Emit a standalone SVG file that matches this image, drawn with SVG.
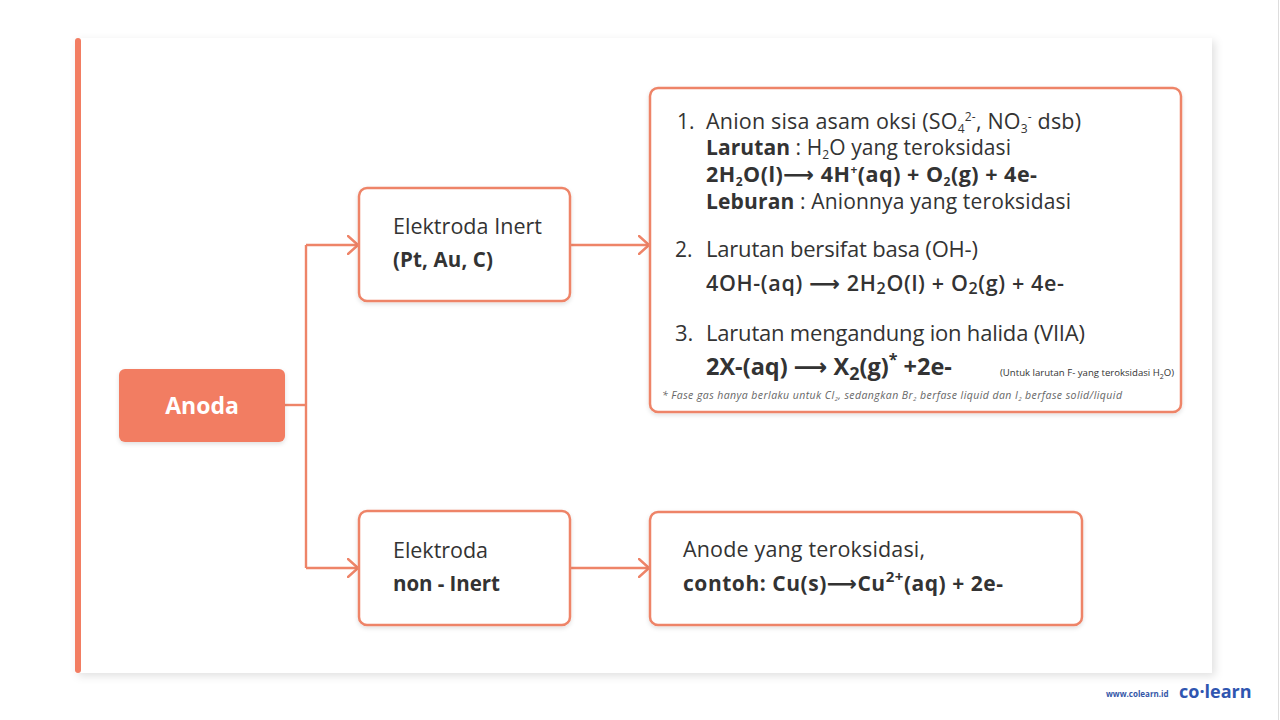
<svg xmlns="http://www.w3.org/2000/svg" width="1280" height="720" viewBox="0 0 1280 720">
<defs>
<filter id="sh" x="-5%" y="-5%" width="110%" height="112%">
<feDropShadow dx="3" dy="3" stdDeviation="4" flood-color="#000" flood-opacity="0.12"/>
</filter>
<filter id="bs" x="-5%" y="-5%" width="110%" height="115%">
<feDropShadow dx="0" dy="2" stdDeviation="2" flood-color="#000" flood-opacity="0.12"/>
</filter>
<marker id="arr" viewBox="0 0 12 20" refX="11" refY="10" markerWidth="12" markerHeight="20" markerUnits="userSpaceOnUse" orient="auto">
<path d="M1,1 L11,10 L1,19" fill="none" stroke="#EE8468" stroke-width="2.4" stroke-linecap="round" stroke-linejoin="round"/>
</marker>
<style>
.t{font-family:"Open Sans","Liberation Sans","DejaVu Sans",sans-serif;fill:#333;}
.b{font-weight:700;}
.box{fill:#fff;stroke:#EE8468;stroke-width:2.5;}
.ln{fill:none;stroke:#EE8468;stroke-width:2.4;}
</style>
</defs>
<rect width="1280" height="720" fill="#fff"/>
<line x1="1278.5" y1="0" x2="1278.5" y2="720" stroke="#ddd" stroke-width="1"/>
<rect x="75" y="38" width="1137" height="635" fill="#fff" filter="url(#sh)"/>
<rect x="75" y="38" width="6" height="635" rx="3" fill="#F27D62"/>

<g id="connectors">
<polyline class="ln" points="285,405 306,405"/>
<polyline class="ln" points="306,245 306,568"/>
<line class="ln" x1="306" y1="245" x2="358" y2="245" marker-end="url(#arr)"/>
<line class="ln" x1="306" y1="568" x2="358" y2="568" marker-end="url(#arr)"/>
<line class="ln" x1="570" y1="245" x2="649" y2="245" marker-end="url(#arr)"/>
<line class="ln" x1="570" y1="568" x2="649" y2="568" marker-end="url(#arr)"/>
</g>

<g id="anoda">
<rect x="119" y="369" width="166" height="73" rx="6" fill="#F27D62" filter="url(#bs)"/>
<text x="202" y="414" text-anchor="middle" class="t b" style="fill:#fff" font-size="23">Anoda</text>
</g>

<g id="inert">
<rect class="box" x="359" y="188" width="211" height="113" rx="8" filter="url(#bs)"/>
<text x="393" y="234" class="t" font-size="21.5" textLength="149" lengthAdjust="spacing">Elektroda Inert</text>
<text x="393" y="267" class="t b" font-size="20.5" textLength="100" lengthAdjust="spacing">(Pt, Au, C)</text>
</g>

<g id="noninert">
<rect class="box" x="359" y="511" width="211" height="114" rx="8" filter="url(#bs)"/>
<text x="393" y="558" class="t" font-size="21.5" textLength="95" lengthAdjust="spacing">Elektroda</text>
<text x="393" y="591" class="t b" font-size="20.5" textLength="107" lengthAdjust="spacing">non - Inert</text>
</g>

<g id="inert-detail">
<rect class="box" x="650" y="88" width="531" height="324" rx="8" filter="url(#bs)"/>
<text x="677" y="129" class="t" font-size="21">1.</text>
<text x="706" y="129" class="t" font-size="21.5" textLength="375" lengthAdjust="spacing">Anion sisa asam oksi (SO<tspan font-size="12" dy="4">4</tspan><tspan font-size="12" dy="-12">2-</tspan><tspan dy="8">, NO</tspan><tspan font-size="12" dy="4">3</tspan><tspan font-size="12" dy="-12">-</tspan><tspan dy="8"> dsb)</tspan></text>
<text x="706" y="155" class="t" font-size="21" textLength="305" lengthAdjust="spacing"><tspan class="b">Larutan</tspan> : H<tspan font-size="12" dy="4">2</tspan><tspan dy="-4">O yang teroksidasi</tspan></text>
<text x="706" y="182" class="t b" font-size="21.5" textLength="331" lengthAdjust="spacing">2H<tspan font-size="12" dy="4">2</tspan><tspan dy="-4">O(l)⟶ 4H</tspan><tspan font-size="12" dy="-8">+</tspan><tspan dy="8">(aq) + O</tspan><tspan font-size="12" dy="4">2</tspan><tspan dy="-4">(g) + 4e-</tspan></text>
<text x="706" y="209" class="t" font-size="21" textLength="365" lengthAdjust="spacing"><tspan class="b">Leburan</tspan> : Anionnya yang teroksidasi</text>

<text x="675" y="257" class="t" font-size="21">2.</text>
<text x="706" y="257" class="t" font-size="22" textLength="272" lengthAdjust="spacing">Larutan bersifat basa (OH-)</text>
<text x="706" y="291" class="t" font-size="21.5" font-weight="600" textLength="358" lengthAdjust="spacing">4OH-(aq) ⟶ 2H<tspan font-size="16" dy="3">2</tspan><tspan dy="-3">O(l) + O</tspan><tspan font-size="16" dy="3">2</tspan><tspan dy="-3">(g) + 4e-</tspan></text>

<text x="675" y="341" class="t" font-size="22">3.</text>
<text x="706" y="341" class="t" font-size="22" textLength="379" lengthAdjust="spacing">Larutan mengandung ion halida (VIIA)</text>
<text x="706" y="375" class="t b" font-size="23.5">2X-(aq) ⟶ X<tspan font-size="18" dy="5">2</tspan><tspan dy="-5">(g)</tspan><tspan font-size="16" dy="-10">*</tspan><tspan dy="10"> +2e-</tspan></text>
<text x="1000" y="376" class="t" font-size="9.6">(Untuk larutan F- yang teroksidasi H<tspan font-size="7" dy="3">2</tspan><tspan dy="-3">O)</tspan></text>
<text x="662" y="399" class="t" font-size="10.5" font-style="italic" style="fill:#666" textLength="460" lengthAdjust="spacing">* Fase gas hanya berlaku untuk Cl<tspan font-size="6" dy="2">2</tspan><tspan dy="-2">, sedangkan Br</tspan><tspan font-size="6" dy="2">2</tspan><tspan dy="-2"> berfase liquid dan I</tspan><tspan font-size="6" dy="2">2</tspan><tspan dy="-2"> berfase solid/liquid</tspan></text>
</g>

<g id="noninert-detail">
<rect class="box" x="650" y="512" width="432" height="113" rx="8" filter="url(#bs)"/>
<text x="683" y="557" class="t" font-size="21.5" textLength="242" lengthAdjust="spacing">Anode yang teroksidasi,</text>
<text x="683" y="591" class="t b" font-size="21" textLength="320" lengthAdjust="spacing">contoh: Cu(s)⟶Cu<tspan font-size="15" dy="-9">2+</tspan><tspan dy="9">(aq) + 2e-</tspan></text>
</g>

<g id="watermark">
<text x="1106" y="697" class="t b" font-size="8" style="fill:#3557a8">www.colearn.id</text>
<text x="1179" y="698" class="t b" font-size="18" style="fill:#2f55b0">co·learn</text>
</g>
</svg>
